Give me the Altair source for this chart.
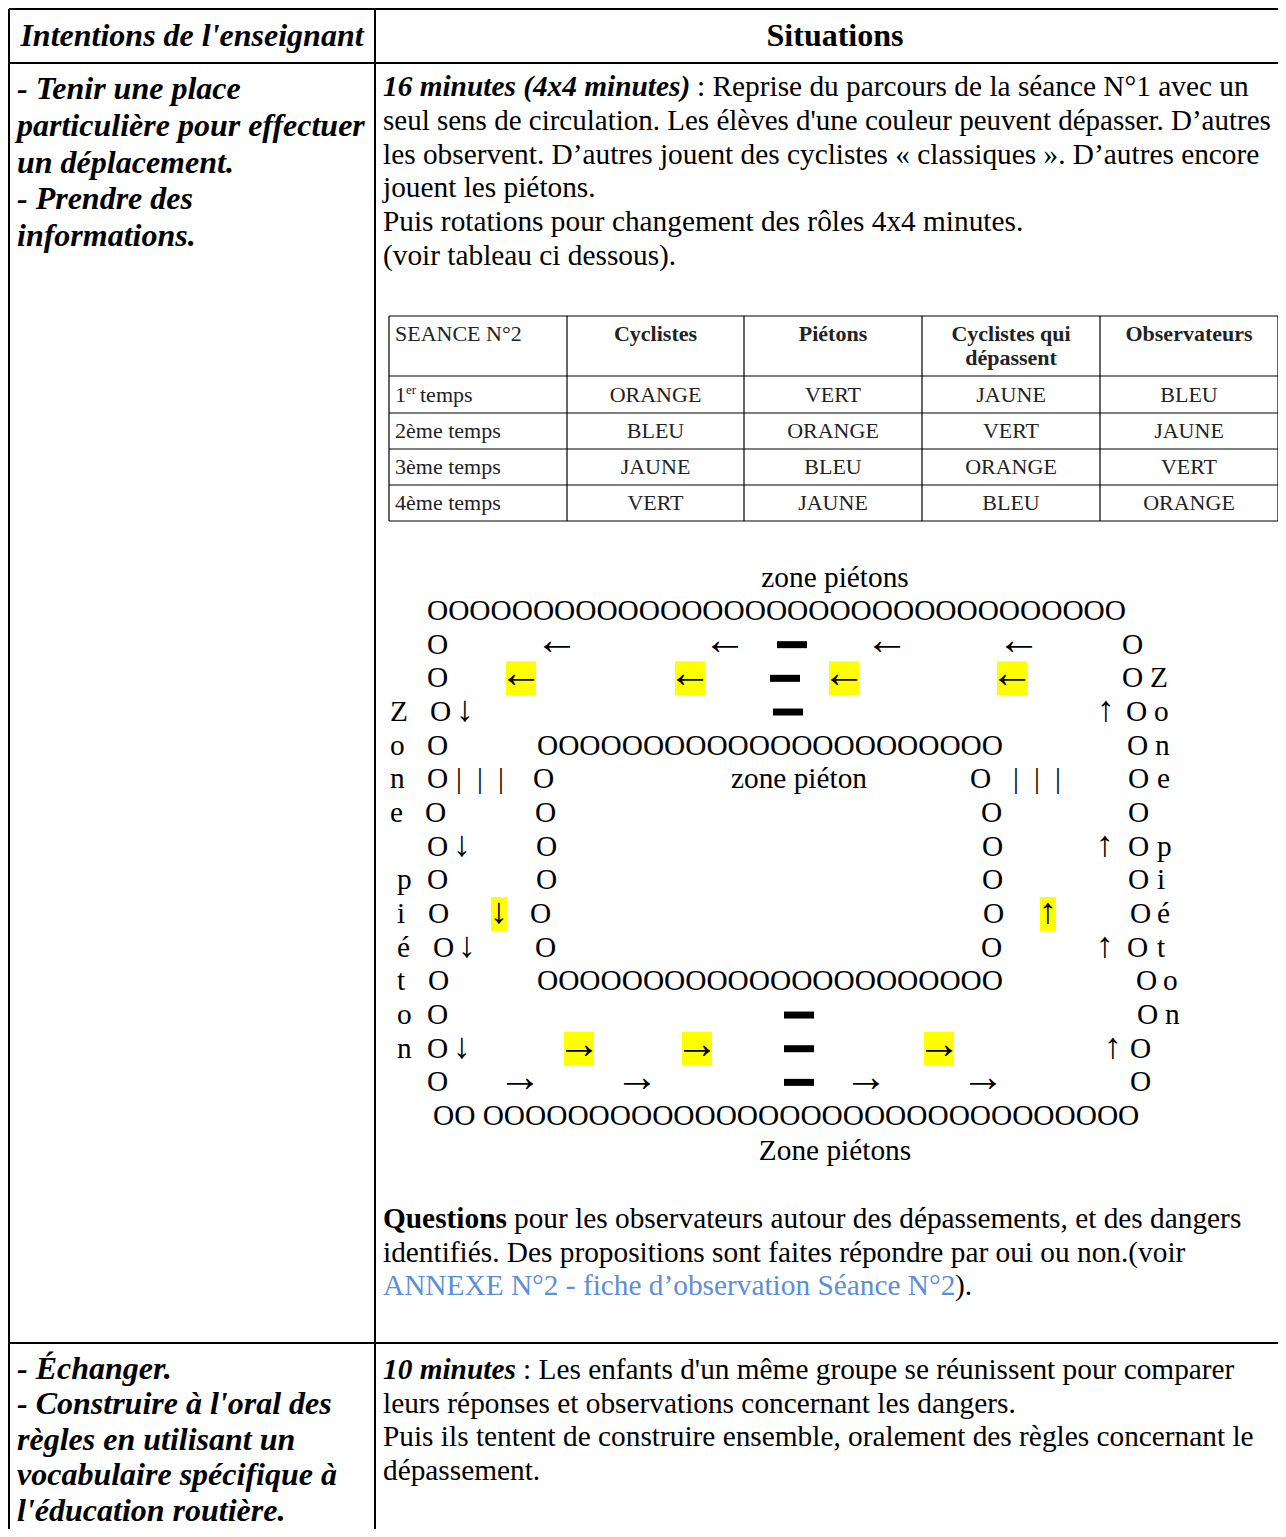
import altair as alt
import pandas as pd

# ---------------- content ----------------
header_left = "Intentions de l'enseignant"
header_right = "Situations"

left_block1 = ["- Tenir une place", "particulière pour effectuer", "un déplacement.",
               "- Prendre des", "informations."]
left_block2 = ["- Échanger.", "- Construire à l'oral des", "règles en utilisant un",
               "vocabulaire spécifique à", "l'éducation routière."]

para1_lead = "16 minutes (4x4 minutes)"
para1 = [": Reprise du parcours de la séance N°1 avec un",
         "seul sens de circulation. Les élèves d'une couleur peuvent dépasser. D’autres",
         "les observent. D’autres jouent des cyclistes « classiques ». D’autres encore",
         "jouent les piétons.",
         "Puis rotations pour changement des rôles 4x4 minutes.",
         "(voir tableau ci dessous)."]

para2_lead = "Questions"
para2 = ["pour les observateurs autour des dépassements, et des dangers",
         "identifiés. Des propositions sont faites répondre par oui ou non.(voir"]
para2_link = "ANNEXE N°2 - fiche d’observation Séance N°2"
para2_end = ")."

para3_lead = "10 minutes"
para3 = [": Les enfants d'un même groupe se réunissent pour comparer",
         "leurs réponses et observations concernant les dangers.",
         "Puis ils tentent de construire ensemble, oralement des règles concernant le",
         "dépassement."]

table_corner = "SEANCE N°2"
table_roles = ["Cyclistes", "Piétons", "Cyclistes qui|dépassent", "Observateurs"]
table_times = ["1|er| temps", "2ème temps", "3ème temps", "4ème temps"]
table_values = [["ORANGE", "VERT", "JAUNE", "BLEU"],
                ["BLEU", "ORANGE", "VERT", "JAUNE"],
                ["JAUNE", "BLEU", "ORANGE", "VERT"],
                ["VERT", "JAUNE", "BLEU", "ORANGE"]]

zone_top = "zone piétons"
zone_bottom = "Zone piétons"

# diagram glyphs: (row, left x, text)
diag_text = [
    (0, 427, "O" * 33),
    (1, 427, "O"), (1, 1122, "O"),
    (2, 427, "O"), (2, 1122, "O"), (2, 1150, "Z"),
    (3, 390, "Z"), (3, 430, "O"), (3, 1126, "O"), (3, 1154, "o"),
    (4, 390, "o"), (4, 427, "O"), (4, 537, "O" * 22), (4, 1127, "O"), (4, 1155, "n"),
    (5, 390, "n"), (5, 427, "O"), (5, 456, "|"), (5, 477, "|"), (5, 498, "|"), (5, 533, "O"),
    (5, 731, "zone piéton"), (5, 970, "O"), (5, 1013, "|"), (5, 1034, "|"), (5, 1055, "|"),
    (5, 1128, "O"), (5, 1157, "e"),
    (6, 390, "e"), (6, 425, "O"), (6, 535, "O"), (6, 981, "O"), (6, 1128, "O"),
    (7, 427, "O"), (7, 536, "O"), (7, 982, "O"), (7, 1128, "O"), (7, 1157, "p"),
    (8, 397, "p"), (8, 427, "O"), (8, 536, "O"), (8, 982, "O"), (8, 1128, "O"), (8, 1157, "i"),
    (9, 397, "i"), (9, 428, "O"), (9, 530, "O"), (9, 983, "O"), (9, 1130, "O"), (9, 1157, "é"),
    (10, 397, "é"), (10, 433, "O"), (10, 535, "O"), (10, 981, "O"), (10, 1127, "O"), (10, 1157, "t"),
    (11, 397, "t"), (11, 428, "O"), (11, 537, "O" * 22), (11, 1136, "O"), (11, 1163, "o"),
    (12, 397, "o"), (12, 427, "O"), (12, 1137, "O"), (12, 1165, "n"),
    (13, 397, "n"), (13, 427, "O"), (13, 1130, "O"),
    (14, 427, "O"), (14, 1130, "O"),
    (15, 433, "OO " + "O" * 31),
]
# arrows: (row, centre x, glyph, highlighted)
diag_arrows = [
    (1, 557, "←", 0), (1, 725, "←", 0), (1, 887, "←", 0), (1, 1019, "←", 0),
    (2, 521, "←", 1), (2, 690, "←", 1), (2, 844, "←", 1), (2, 1012, "←", 1),
    (3, 465, "↓", 0), (3, 1106, "↑", 0),
    (7, 462, "↓", 0), (7, 1105, "↑", 0),
    (9, 499, "↓", 1), (9, 1048, "↑", 1),
    (10, 467, "↓", 0), (10, 1105, "↑", 0),
    (13, 462, "↓", 0), (13, 579, "→", 1), (13, 697, "→", 1), (13, 939, "→", 1), (13, 1113, "↑", 0),
    (14, 520, "→", 0), (14, 637, "→", 0), (14, 866, "→", 0), (14, 983, "→", 0),
]
# separators (row, centre x)
diag_dashes = [(1, 792), (2, 785), (3, 788), (12, 799), (13, 799), (14, 799)]

# ---------------- layout helpers ----------------
BODY = 29.33
BIG = 32
TAB = 22
HARROW = 44
VARROW = 36
DIAG_Y0, DIAG_LH = 611, 33.67

def ry(r):
    return DIAG_Y0 + r * DIAG_LH

reg_left, reg_center, bold_center, bi_left, bi_center, bold_left = [], [], [], [], [], []

def add(lst, x, y, t, s=BODY, c="#000000"):
    lst.append({"x": x, "y": y, "t": t, "s": s, "c": c})

bi_center.append({"x": 192, "y": 36, "t": header_left, "s": BIG, "c": "#000"})
bold_center.append({"x": 835, "y": 36, "t": header_right, "s": BIG, "c": "#000"})

for i, t in enumerate(left_block1):
    add(bi_left, 17, 89 + i * 36.75, t, BIG)
for i, t in enumerate(left_block2):
    add(bi_left, 17, 1369 + i * 35.4, t, BIG)

add(bi_left, 383, 87, para1_lead)
for i, t in enumerate(para1):
    add(reg_left, 697 if i == 0 else 383, 87 + i * 33.8, t, 29.0 if i == 1 else BODY)

add(bold_left, 383, 1219, para2_lead)
for i, t in enumerate(para2):
    add(reg_left, 514 if i == 0 else 383, 1219 + i * 33.6, t)
add(reg_left, 383, 1219 + 2 * 33.6, para2_link, BODY, "#5b8fd6")
add(reg_left, 955, 1219 + 2 * 33.6, para2_end)

add(bi_left, 383, 1370, para3_lead)
for i, t in enumerate(para3):
    add(reg_left, 523 if i == 0 else 383, 1370 + i * 33.7, t)

# inner table
col_edges = [389, 567, 744, 922, 1100, 1278]
row_edges = [316, 376, 413, 449, 485, 521]
col_centres = [(col_edges[i] + col_edges[i + 1]) / 2 for i in range(1, 5)]
row_centres = [(row_edges[i] + row_edges[i + 1]) / 2 for i in range(1, 5)]
TC = "#222222"
add(reg_left, 395, 334, table_corner, TAB, TC)
for j, role in enumerate(table_roles):
    for k, part in enumerate(role.split("|")):
        add(bold_center, col_centres[j], 334 + k * 24, part, TAB, TC)
for i, lab in enumerate(table_times):
    parts = lab.split("|")
    if len(parts) == 3:
        add(reg_left, 395, row_centres[i], parts[0], TAB, TC)
        add(reg_left, 406, row_centres[i] - 5, parts[1], 13, TC)
        add(reg_left, 420, row_centres[i], parts[2].strip(), TAB, TC)
    else:
        add(reg_left, 395, row_centres[i], lab, TAB, TC)
    for j, v in enumerate(table_values[i]):
        add(reg_center, col_centres[j], row_centres[i], v, TAB, TC)

# diagram
add(reg_center, 835, 578, zone_top)
add(reg_center, 835, 1151, zone_bottom)
for r, x, t in diag_text:
    add(reg_left, x, ry(r), t)
for r, x, g, h in diag_arrows:
    if g in "←→":
        add(reg_center, x, ry(r) - 4, g, HARROW)
    else:
        add(reg_center, x, ry(r) - 2, g, VARROW)

# rectangles: highlights and dashes
rects = []
for r, x, g, h in diag_arrows:
    if h:
        hw = 15 if g in "←→" else 8
        rects.append({"x": x - hw, "x2": x + hw, "y": ry(r) - 17, "y2": ry(r) + 17, "c": "#ffff00"})
for r, x in diag_dashes:
    rects.append({"x": x - 15, "x2": x + 15, "y": ry(r) - 3.5, "y2": ry(r) + 3.5, "c": "#000000"})

# rules
rules = [
    {"x": 9, "x2": 1290, "y": 9, "y2": 9, "w": 2},
    {"x": 9, "x2": 1290, "y": 63, "y2": 63, "w": 2},
    {"x": 9, "x2": 1290, "y": 1343, "y2": 1343, "w": 2},
    {"x": 9, "x2": 9, "y": 9, "y2": 1540, "w": 2},
    {"x": 375, "x2": 375, "y": 9, "y2": 1540, "w": 2},
]
for ye in row_edges:
    rules.append({"x": col_edges[0], "x2": col_edges[-1], "y": ye, "y2": ye, "w": 1.2})
for xe in col_edges:
    rules.append({"x": xe, "x2": xe, "y": row_edges[0], "y2": row_edges[-1], "w": 1.2})

# ---------------- chart ----------------
W, H = 1270, 1521
XS = alt.Scale(domain=[8, 8 + W], range=[0, W], nice=False, zero=False)
YS = alt.Scale(domain=[8, 8 + H], range=[0, H], nice=False, zero=False)

def text_layer(rows, weight, style, align):
    return alt.Chart(pd.DataFrame(rows)).mark_text(
        font="Liberation Serif", fontWeight=weight, fontStyle=style,
        align=align, baseline="middle"
    ).encode(
        x=alt.X("x:Q", scale=XS, axis=None),
        y=alt.Y("y:Q", scale=YS, axis=None),
        text="t:N",
        color=alt.Color("c:N", scale=None),
        size=alt.Size("s:Q", scale=None),
    )

rect_layer = alt.Chart(pd.DataFrame(rects)).mark_rect().encode(
    x=alt.X("x:Q", scale=XS, axis=None), x2="x2:Q",
    y=alt.Y("y:Q", scale=YS, axis=None), y2="y2:Q",
    color=alt.Color("c:N", scale=None),
)
rule_layer = alt.Chart(pd.DataFrame(rules)).mark_rule(color="black").encode(
    x=alt.X("x:Q", scale=XS, axis=None), x2="x2:Q",
    y=alt.Y("y:Q", scale=YS, axis=None), y2="y2:Q",
    size=alt.Size("w:Q", scale=None),
)

chart = alt.layer(
    rect_layer,
    text_layer(reg_left, "normal", "normal", "left"),
    text_layer(reg_center, "normal", "normal", "center"),
    text_layer(bold_center, "bold", "normal", "center"),
    text_layer(bi_left, "bold", "italic", "left"),
    text_layer(bi_center, "bold", "italic", "center"),
    text_layer(bold_left, "bold", "normal", "left"),
    rule_layer,
).properties(
    width=W, height=H, padding=0, autosize="none", background="white"
).configure_view(stroke=None)

chart.save("out.html", embed_options={"renderer": "svg", "actions": False})
